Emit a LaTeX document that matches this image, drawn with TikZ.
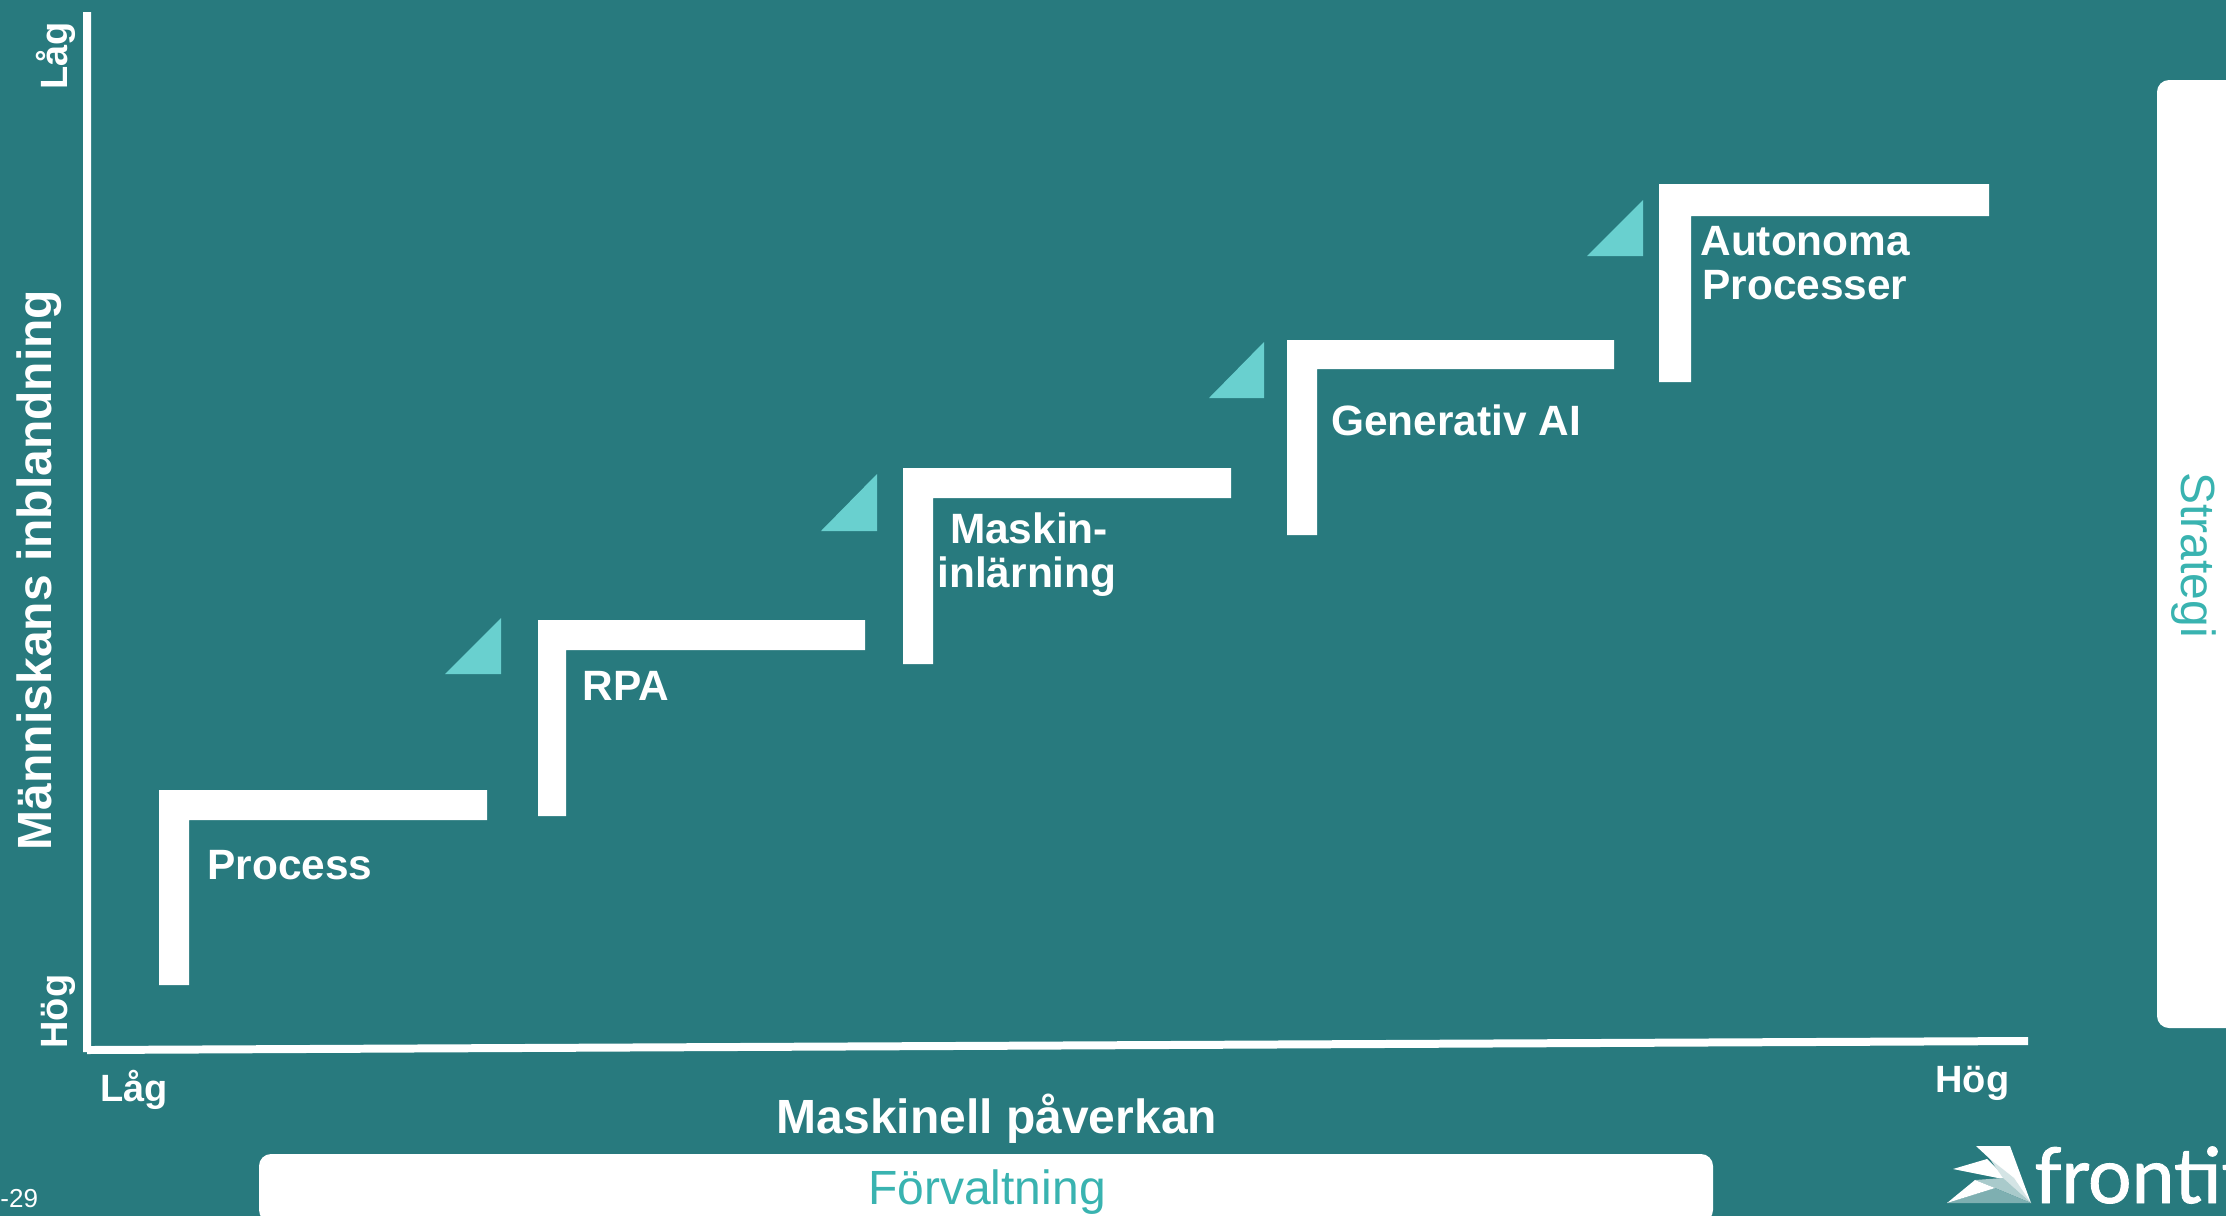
\documentclass[tikz,border=0pt]{standalone}
\usepackage{fontspec}
\setmainfont{Liberation Sans}
\newfontfamily\logofont[FakeBold=1.2]{Lato}
\definecolor{bgteal}{HTML}{287A7E}
\definecolor{tri}{HTML}{69D0CF}
\definecolor{lbl}{HTML}{39B3B0}
\tikzset{
  x=0.5pt,y=-0.5pt,
  barshape/.style={fill=white,draw=none},
  tribox/.style={fill=tri,draw=none},
  steplabel/.style={text=white,font=\fontsize{21.2}{22}\selectfont\bfseries,inner sep=0pt,align=left},
  axislabel/.style={text=white,font=\fontsize{24}{26}\selectfont\bfseries,inner sep=0pt},
  smalllabel/.style={text=white,font=\fontsize{19}{20}\selectfont\bfseries,inner sep=0pt},
  sidelabel/.style={text=lbl,font=\fontsize{24}{26}\selectfont,inner sep=0pt},
}
\newcommand{\stepbar}[6]{\fill[barshape] (#1,#2) -- (#3,#2) -- (#3,#4) -- (#5,#4) -- (#5,#6) -- (#1,#6) -- cycle;}
\begin{document}
\begin{tikzpicture}
\useasboundingbox (0,0) rectangle (2226,1216);
\fill[bgteal] (0,0) rectangle (2226,1216);
\begin{scope}
\clip (0,0) rectangle (2226,1216);
% side boxes
\fill[white,rounded corners=6pt] (2157,80) rectangle (2300,1028);
\fill[white,rounded corners=6pt] (259,1154) rectangle (1713,1222);
% axes
\fill[white] (83,12) -- (91,12) -- (91,1046) -- (2028,1037) -- (2028,1045) -- (87,1054) -- (87,1052) -- (83,1052) -- cycle;
% steps
\stepbar{159}{790}{487}{820}{189}{985}
\stepbar{538}{620}{865}{650}{566}{816}
\stepbar{903}{468}{1231}{498}{933}{664}
\stepbar{1287}{340}{1614}{369}{1317}{535}
\stepbar{1659}{184}{1989}{216}{1691}{382}
% triangles
\fill[tribox] (445,674) -- (501,674) -- (501,618) -- cycle;
\fill[tribox] (821,531) -- (877,531) -- (877,474) -- cycle;
\fill[tribox] (1209,398) -- (1264,398) -- (1264,342) -- cycle;
\fill[tribox] (1587,256) -- (1643,256) -- (1643,200) -- cycle;
% logo
\fill[white] (1976,1146) -- (2010,1146) -- (2031,1203) -- (1990,1159) -- cycle;
\fill[white] (1953,1169) -- (1987,1159) -- (2031,1203) -- (2003,1179) -- cycle;
\fill[white!80!bgteal] (1990,1159) -- (2014,1178) -- (2031,1203) -- (2003,1178) -- cycle;
\fill[white!60!bgteal] (1975,1180) -- (2003,1178) -- (2031,1203) -- (1995,1188) -- cycle;
\fill[white!40!bgteal] (1947,1203) -- (1995,1188) -- (2031,1203) -- cycle;
\fill[white] (1947,1203) -- (1975,1180) -- (1995,1188) -- cycle;
\node[anchor=base west,text=white,inner sep=0pt,font=\fontsize{38.5}{40}\selectfont\logofont] (logo) at (2034,1203) {frontit};
\end{scope}
% labels
\node[steplabel,anchor=base west] (process) at (207,879) {Process};
\node[steplabel,anchor=base west] (rpa) at (582,700) {RPA};
\node[steplabel,anchor=base] (mask) at (1029,543) {Maskin-};
\node[steplabel,anchor=base] (inl) at (1027,587) {inlärning};
\node[steplabel,anchor=base west] (gen) at (1331,435) {Generativ AI};
\node[steplabel,anchor=base west] (auto) at (1700,255) {Autonoma};
\node[steplabel,anchor=base west] (proc) at (1702,299) {Processer};
\node[axislabel,anchor=base] (xaxis) at (997,1133) {Maskinell påverkan};
\node[axislabel,anchor=base,rotate=90] (yaxis) at (51,570) {Människans inblandning};
\node[smalllabel,anchor=base west] (xlow) at (100,1101) {Låg};
\node[smalllabel,anchor=base west] (xhigh) at (1935,1092) {Hög};
\node[smalllabel,anchor=base west,rotate=90] (ylow) at (67,90) {Låg};
\node[smalllabel,anchor=base west,rotate=90] (yhigh) at (67,1049) {Hög};
\node[sidelabel,anchor=base,rotate=-90] (strat) at (2181,555) {Strategi};
\node[sidelabel,anchor=base] (forv) at (987,1204) {Förvaltning};
\node[text=white,inner sep=0pt,anchor=base west,font=\fontsize{13}{14}\selectfont] (pg) at (0,1207) {-29};
\end{tikzpicture}
\end{document}
